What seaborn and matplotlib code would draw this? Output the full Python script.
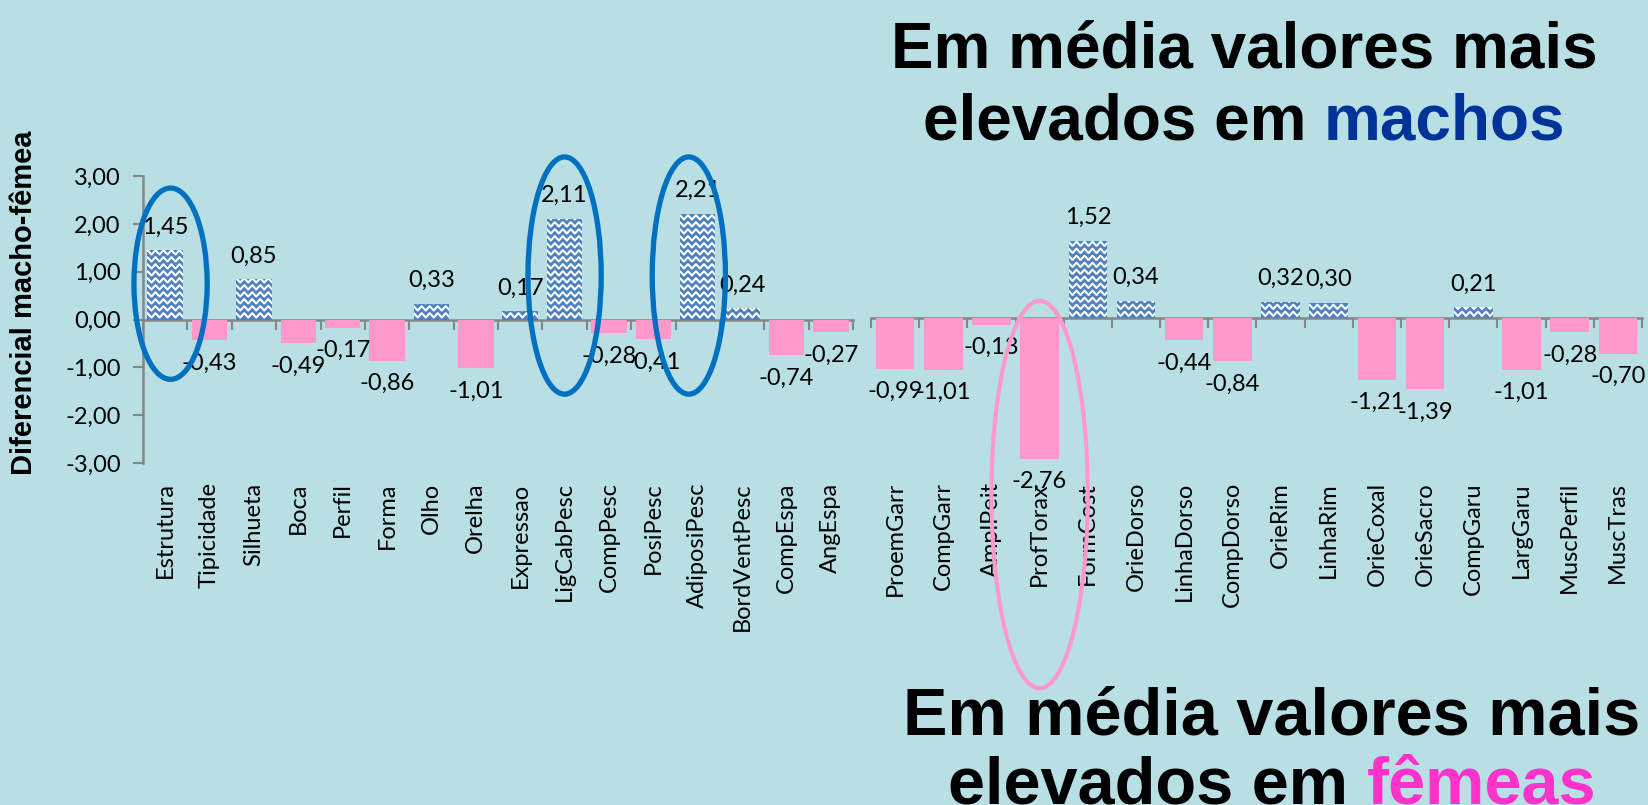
import numpy as np
import pandas as pd
import matplotlib
matplotlib.use("Agg")
import matplotlib.pyplot as plt
import seaborn as sns
from matplotlib.patches import Ellipse
from matplotlib.ticker import FuncFormatter, FixedLocator

# DADOS: diferencial macho-femea por caracteristica
cats_cabeca = ["Estrutura", "Tipicidade", "Silhueta", "Boca", "Perfil", "Forma", "Olho",
               "Orelha", "Expressao", "LigCabPesc", "CompPesc", "PosiPesc", "AdiposiPesc",
               "BordVentPesc", "CompEspa", "AngEspa"]
vals_cabeca = [1.45, -0.43, 0.85, -0.49, -0.17, -0.86, 0.33, -1.01,
               0.17, 2.11, -0.28, -0.41, 2.21, 0.24, -0.74, -0.27]

cats_corpo = ["ProemGarr", "CompGarr", "AmplPeit", "ProfTorax", "FormCost", "OrieDorso",
              "LinhaDorso", "CompDorso", "OrieRim", "LinhaRim", "OrieCoxal", "OrieSacro",
              "CompGaru", "LargGaru", "MuscPerfil", "MuscTras"]
vals_corpo = [-0.99, -1.01, -0.13, -2.76, 1.52, 0.34, -0.44, -0.84,
              0.32, 0.30, -1.21, -1.39, 0.21, -1.01, -0.28, -0.70]

destaques_machos = ["Estrutura", "LigCabPesc", "AdiposiPesc"]
destaques_femeas = ["ProfTorax"]

y_ticks = [-3, -2, -1, 0, 1, 2, 3]

# CORES
FUNDO = "#B8DFE3"
AZUL = "#4F81BD"
ROSA = "#FF99CC"
CINZA = "#868686"
AZUL_ELIPSE = "#0070C0"

sns.set_style("white")
plt.rcParams["font.family"] = ["Lato", "DejaVu Sans"]
plt.rcParams["text.color"] = "black"
plt.rcParams["xtick.color"] = "black"
plt.rcParams["ytick.color"] = "black"
plt.rcParams["axes.labelcolor"] = "black"

fmt_virgula = lambda v: f"{v:.2f}".replace(".", ",")

fig = plt.figure(figsize=(16.48, 8.05), dpi=100, facecolor=FUNDO)
ax1 = fig.add_axes([0.0868, 0.4248, 0.4308, 0.3565])
ax2 = fig.add_axes([0.5285, 0.4149, 0.4678, 0.3801])


def painel(ax, cats, vals, pad_labels):
    df = pd.DataFrame({"cat": cats, "val": vals})
    df["sexo"] = np.where(df["val"] > 0, "macho", "femea")
    sns.barplot(data=df, x="cat", y="val", hue="sexo", dodge=False, width=0.8,
                palette={"macho": AZUL, "femea": ROSA}, saturation=1, errorbar=None,
                legend=False, linewidth=0, ax=ax)
    n = len(cats)
    ax.set_facecolor("none")
    ax.set_xlim(-0.5, n - 0.5)
    ax.set_ylim(-3, 3)

    # padrao ondulado branco nas barras azuis
    sx = ax.transData.transform((1, 0))[0] - ax.transData.transform((0, 0))[0]
    sy = ax.transData.transform((0, 1))[1] - ax.transData.transform((0, 0))[1]
    dy, per, amp = 7 / sy, 8 / sx, 2.2 / sy
    for p in list(ax.patches):
        h = p.get_height()
        if h <= 0:
            continue
        x0, w = p.get_x(), p.get_width()
        xs = np.arange(x0 - per, x0 + w + per, per / 2)
        for yr in np.arange(dy * 0.6, h + dy, dy):
            ys = yr + amp * (-1) ** np.arange(len(xs))
            ln, = ax.plot(xs, ys, color="white", lw=1.5, zorder=3)
            ln.set_clip_path(p)
    ax.set_xlim(-0.5, n - 0.5)
    ax.set_ylim(-3, 3)

    for c in ax.containers:
        ax.bar_label(c, fmt=fmt_virgula, padding=9, fontsize=17, color="black")

    # eixo das categorias na linha do zero
    sec = ax.secondary_xaxis(0, transform=ax.transData)
    sec.xaxis.set_major_locator(FixedLocator(np.arange(-0.5, n, 1)))
    sec.tick_params(axis="x", length=7, width=1.5, color=CINZA, labelbottom=False)
    sec.spines["bottom"].set_color(CINZA)
    sec.spines["bottom"].set_linewidth(1.8)

    ax.spines[["top", "right", "bottom"]].set_visible(False)
    ax.tick_params(axis="x", length=0, pad=pad_labels, labelsize=17, rotation=90)
    for t in ax.get_xticklabels():
        t.set_verticalalignment("top")
    ax.set_xlabel("")
    ax.set_ylabel("")


painel(ax1, cats_cabeca, vals_cabeca, 14)
painel(ax2, cats_corpo, vals_corpo, 8)

# eixo y do painel da esquerda
ax1.set_yticks(y_ticks)
ax1.yaxis.set_major_formatter(FuncFormatter(lambda v, p: fmt_virgula(v)))
ax1.tick_params(axis="y", length=7, width=1.5, color=CINZA, labelsize=17, left=True, pad=9)
ax1.spines["left"].set_color(CINZA)
ax1.spines["left"].set_linewidth(1.8)
ax1.set_ylabel("Diferencial macho-fêmea", fontsize=21, fontweight="bold",
               family="Liberation Sans")
ax1.yaxis.set_label_coords(-0.148, 0.56)

ax2.spines["left"].set_visible(False)
ax2.set_yticks([])

# elipses de destaque
elipses_machos = {"Estrutura": (0.12, 0.75, 4.0), "LigCabPesc": (0.0, 0.92, 4.96),
                  "AdiposiPesc": (-0.2, 0.92, 4.96)}
for nome in destaques_machos:
    dx, yc, h = elipses_machos[nome]
    i = cats_cabeca.index(nome)
    ax1.add_patch(Ellipse((i + dx, yc), 1.65, h, fill=False, ec=AZUL_ELIPSE, lw=3.8,
                          clip_on=False, zorder=6))
for nome in destaques_femeas:
    i = cats_corpo.index(nome)
    ax2.add_patch(Ellipse((i, -3.46), 2.0, 7.6, fill=False, ec=ROSA, lw=3.0,
                          clip_on=False, zorder=6))

# titulos
r = fig.canvas.get_renderer()


def titulo(xc, y1, y2, tam, linha1, linha2, destaque, cor):
    kw = dict(fontsize=tam, fontweight="bold", family="Liberation Sans", va="baseline")
    fig.text(xc, y1, linha1, ha="center", color="black", **kw)
    completo = fig.text(0, 0, linha2 + destaque, **kw)
    w_tot = completo.get_window_extent(r).width / fig.bbox.width
    so = fig.text(0, 0, destaque, **kw)
    w_dest = so.get_window_extent(r).width / fig.bbox.width
    completo.remove()
    so.remove()
    x0 = xc - w_tot / 2
    fig.text(x0, y2, linha2, ha="left", color="black", **kw)
    fig.text(x0 + w_tot - w_dest, y2, destaque, ha="left", color=cor, **kw)


titulo(1244 / 1648, 1 - 68 / 805, 1 - 139 / 805, 46,
       "Em média valores mais", "elevados em ", "machos", "#003399")
titulo(1272 / 1648, 1 - 734 / 805, 1 - 803 / 805, 48,
       "Em média valores mais", "elevados em ", "fêmeas", "#FF33CC")

fig.savefig("out.png", dpi=100, facecolor=FUNDO)
